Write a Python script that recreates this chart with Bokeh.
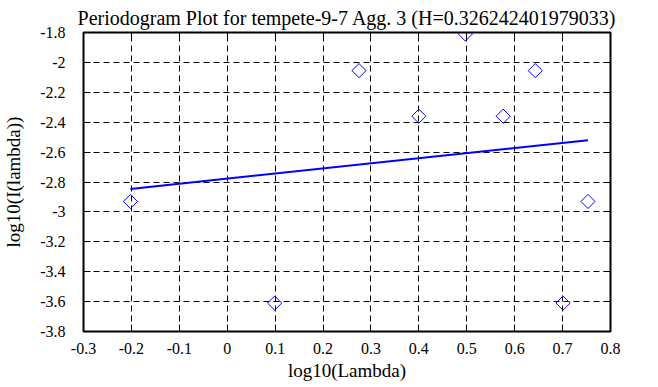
import numpy as np
from bokeh.plotting import figure
from bokeh.models import Range1d, FixedTicker, LinearAxis, CustomJSTickFormatter
from bokeh.embed import file_html
from bokeh.resources import INLINE

# Data
log_lambda = [-0.202, 0.099, 0.275, 0.400, 0.497, 0.576, 0.643, 0.701, 0.753]
log_I = [-2.93, -3.61, -2.055, -2.36, -1.81, -2.36, -2.055, -3.61, -2.93]
fit_x = [-0.202, 0.753]
fit_y = [-2.847, -2.520]
x_ticks = [-0.3, -0.2, -0.1, 0.0, 0.1, 0.2, 0.3, 0.4, 0.5, 0.6, 0.7, 0.8]
x_tick_labels = ["-0.3", "-0.2", "-0.1", "0", "0.1", "0.2", "0.3", "0.4",
                 "0.5", "0.6", "0.7", "0.8"]
y_ticks = [-3.8, -3.6, -3.4, -3.2, -3.0, -2.8, -2.6, -2.4, -2.2, -2.0, -1.8]
y_tick_labels = ["-3.8", "-3.6", "-3.4", "-3.2", "-3", "-2.8", "-2.6", "-2.4",
                 "-2.2", "-2", "-1.8"]
title_text = "Periodogram Plot for tempete-9-7 Agg. 3 (H=0.326242401979033)"
x_label = "log10(Lambda)"
y_label = "log10(I(lambda))"

FONT = "Liberation Serif"

p = figure(width=658, height=387, output_backend="svg", toolbar_location=None,
           x_range=Range1d(-0.3, 0.8), y_range=Range1d(-3.8, -1.8),
           min_border_left=83, min_border_right=48, min_border_top=31,
           min_border_bottom=56, title=title_text)

p.title.text_font = FONT
p.title.text_font_size = "20px"
p.title.text_font_style = "normal"
p.title.align = "center"
p.title.standoff = 8
p.title.text_color = "black"

p.outline_line_color = "black"
p.outline_line_width = 2
p.background_fill_color = "white"
p.border_fill_color = "white"

blank = CustomJSTickFormatter(code="return '';")

xa = p.xaxis[0]
ya = p.yaxis[0]
xa.ticker = FixedTicker(ticks=x_ticks)
ya.ticker = FixedTicker(ticks=y_ticks)
xa.major_label_overrides = dict(zip(x_ticks, x_tick_labels))
ya.major_label_overrides = dict(zip(y_ticks, y_tick_labels))
for ax in (xa, ya):
    ax.axis_line_color = None
    ax.major_tick_in = 7
    ax.major_tick_out = 0
    ax.major_tick_line_color = "black"
    ax.minor_tick_line_color = None
    ax.major_label_text_font = FONT
    ax.major_label_text_font_style = "normal"
    ax.major_label_text_font_size = "16px"
    ax.major_label_text_color = "black"
    ax.axis_label_text_font = FONT
    ax.axis_label_text_font_size = "19px"
    ax.axis_label_text_font_style = "normal"
    ax.axis_label_text_color = "black"

xa.axis_label = x_label
xa.major_label_standoff = 11
xa.axis_label_standoff = 3
ya.axis_label = y_label
ya.major_label_standoff = 18
ya.axis_label_standoff = 13

top = LinearAxis(ticker=FixedTicker(ticks=x_ticks), formatter=blank,
                 axis_line_color=None, major_tick_in=7, major_tick_out=0,
                 minor_tick_line_color=None, major_label_standoff=0)
right = LinearAxis(ticker=FixedTicker(ticks=y_ticks), formatter=blank,
                   axis_line_color=None, major_tick_in=7, major_tick_out=0,
                   minor_tick_line_color=None, major_label_standoff=0)
p.add_layout(top, "above")
p.add_layout(right, "right")

for g, t in ((p.xgrid[0], x_ticks), (p.ygrid[0], y_ticks)):
    g.ticker = FixedTicker(ticks=t)
    g.grid_line_color = "black"
    g.grid_line_dash = "6 4"
    g.grid_line_width = 1

p.line(fit_x, fit_y, line_color="#0000ff", line_width=2)
p.scatter(log_lambda, log_I, marker="square", size=10, angle=np.pi / 4,
          fill_color=None, line_color="#0000ff", line_width=1)

open("out.html", "w").write(file_html(p, INLINE))
